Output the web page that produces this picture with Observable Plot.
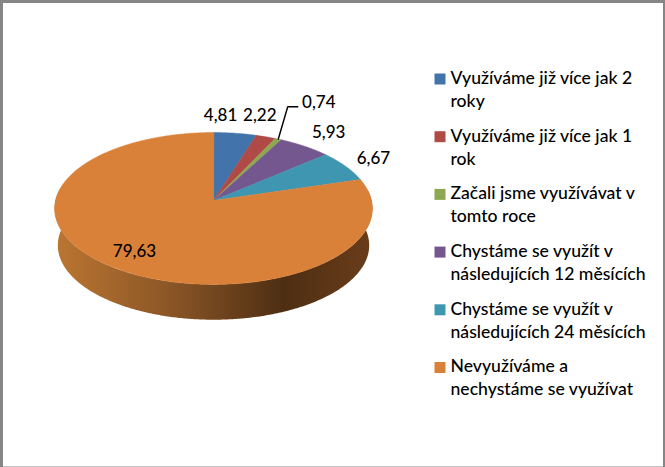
<!DOCTYPE html>
<html lang="cs">
<head>
<meta charset="utf-8">
<script src="https://cdn.jsdelivr.net/npm/d3@7"></script>
<script src="https://cdn.jsdelivr.net/npm/@observablehq/plot@0.6"></script>
<style>
  html, body { margin: 0; padding: 0; background: #fff; }
  svg { display: block; }
</style>
</head>
<body>
<div id="chart"></div>
<script>
const categories = [
  "Využíváme již více jak 2\nroky",
  "Využíváme již více jak 1\nrok",
  "Začali jsme využívávat v\ntomto roce",
  "Chystáme se využít v\nnásledujících 12 měsících",
  "Chystáme se využít v\nnásledujících 24 měsících",
  "Nevyužíváme a\nnechystáme se využívat"
];
const values = [4.81, 2.22, 0.74, 5.93, 6.67, 79.63];
const colors = ["#4273aa", "#b04a47", "#8ea84f", "#75578f", "#3f96b0", "#da8139"];

// Label placement relative to the rim point at each slice's mid-angle.
const labelDx = [-14.5, -6, 40.5, 24, 28, 24];
const labelDy = [-17.7, -21, -37, -14, -8, -15];

// Perspective projection of the pie's circular face.
const W = 665, H = 467;
const cx = 213, cy = 200, rimX = 158, rimY = 75.1, persp = 0.105;
const depth = 37, shrink = 0.02;
function project(theta, rho = 1, level = 0) {
  const u = rho * Math.sin(theta), v = -rho * Math.cos(theta);
  const s = 1 / (1 - persp * v) * (1 - shrink * level);
  return {x: cx + rimX * u * s, y: cy + rimY * v * s + depth * level};
}

const total = d3.sum(values);
let acc = 0;
const slices = values.map((value, i) => {
  const a0 = acc / total * 2 * Math.PI;
  acc += value;
  const a1 = acc / total * 2 * Math.PI;
  return {category: categories[i], value, a0, a1, mid: (a0 + a1) / 2, i};
});

const slicePoints = slices.flatMap((s) => {
  const n = Math.max(2, Math.ceil((s.a1 - s.a0) / 0.01));
  const pts = [{...project(0, 0), category: s.category}];
  for (let j = 0; j <= n; ++j) {
    pts.push({...project(s.a0 + (s.a1 - s.a0) * j / n), category: s.category});
  }
  return pts;
});

const wallAngles = d3.range(Math.PI / 2 - 0.15, 3 * Math.PI / 2 + 0.15, 0.01);
const wallPoints = [
  ...wallAngles.map((t) => project(t, 1, 0)),
  ...wallAngles.slice().reverse().map((t) => project(t, 1, 1))
];

const labels = slices.map((s) => {
  const p = project(s.mid);
  return {x: p.x + labelDx[s.i], y: p.y + labelDy[s.i], text: String(s.value).replace(".", ",")};
});

const thin = slices[2];
const thinRim = project(thin.mid);
const leader = [
  {x: thinRim.x, y: thinRim.y},
  {x: thinRim.x + 9.5, y: thinRim.y - 32.5},
  {x: thinRim.x + 19.5, y: thinRim.y - 32.5}
];

const legendX = 439.5, legendTextX = 450, legendTop = 78.5, legendStep = 57.7;
const legend = categories.map((category, i) => ({category, y: legendTop + i * legendStep}));

const fontFamily = "Lato, 'Open Sans', sans-serif";

function gradientDefs() {
  const defs = d3.create("svg:defs");
  const g = defs.append("linearGradient").attr("id", "wallShade");
  [[0, "#bb7631"], [0.35, "#8d5727"], [0.72, "#4e2e13"], [1, "#6a3d1a"]].forEach(([o, c]) => {
    g.append("stop").attr("offset", o).attr("stop-color", c);
  });
  return defs.node();
}

const plot = Plot.plot({
  width: W,
  height: H,
  margin: 0,
  x: {domain: [0, W], range: [0, W], axis: null},
  y: {domain: [0, H], range: [0, H], axis: null},
  color: {domain: categories, range: colors},
  style: {background: "#fff", fontFamily},
  marks: [
    gradientDefs,
    Plot.line(wallPoints, {x: "x", y: "y", fill: "url(#wallShade)", stroke: "none", curve: "linear-closed"}),
    Plot.line(slicePoints, {x: "x", y: "y", z: "category", fill: "category", stroke: "category", strokeWidth: 0.5, curve: "linear-closed"}),
    Plot.line(leader, {x: "x", y: "y", stroke: "#000", strokeWidth: 1.5}),
    Plot.text(labels, {x: "x", y: "y", text: "text", fontSize: 17, fontWeight: 500, fill: "#000"}),
    Plot.dot(legend, {x: legendX, y: (d) => d.y, symbol: "square", r: 6.2, fill: "category", stroke: "none"}),
    Plot.text(legend, {x: legendTextX, y: (d) => d.y, text: "category", textAnchor: "start", lineAnchor: "top", dy: -11.5, fontSize: 17.6, fontWeight: 500, lineHeight: 1.31, fill: "#000"}),
    Plot.frame({stroke: "#868686", strokeWidth: 5, insetBottom: -1.5})
  ]
});
document.getElementById("chart").appendChild(plot);
</script>
</body>
</html>
